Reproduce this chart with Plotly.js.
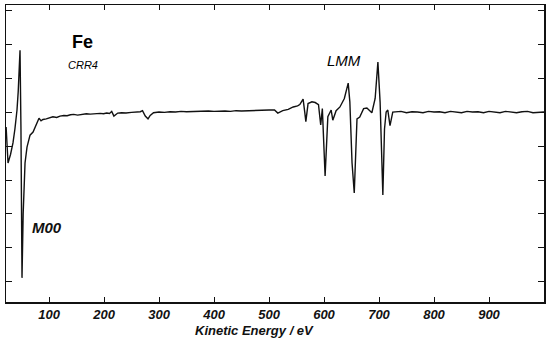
<!DOCTYPE html>
<html>
<head>
<meta charset="utf-8">
<script src="https://cdn.plot.ly/plotly-3.0.1.min.js"></script>
<style>html,body{margin:0;padding:0;background:#fff;}#chart{width:550px;height:345px;}</style>
</head>
<body>
<div id="chart"></div>
<script>
// Kinetic energy (eV)
var energy = [22, 23.5, 25.5, 30, 34.5, 38, 41.8, 44, 47.3, 49, 50.9, 53, 56.4, 60, 65.5, 71, 76.4, 81.8, 85.5, 89, 95, 101, 107, 114, 120, 127, 133, 139, 145, 152, 162, 168, 175, 184, 193, 199, 205, 210, 214, 218, 225, 232, 240, 250, 260, 266, 270, 275, 280, 284, 290, 300, 310, 320, 330, 340, 350, 360, 370, 380, 390, 400, 410, 420, 430, 440, 450, 460, 470, 480, 490, 500, 510, 516, 525, 535, 544, 552, 556, 562, 565, 567, 571, 578, 584, 590, 594, 597, 602, 607, 613, 616, 622, 629, 637, 644, 647, 651, 655, 660, 665, 672, 678, 687, 693, 698, 702, 705, 707, 710, 713, 716, 720, 725, 730, 740, 750, 760, 770, 780, 790, 800, 810, 820, 830, 840, 850, 860, 870, 880, 890, 900, 910, 920, 930, 940, 950, 960, 970, 980, 990, 1000];
// dN/dE intensity (arbitrary units)
var intensity = [4.56, 4.0, 3.5, 3.75, 4.09, 4.5, 5.06, 5.6, 6.82, 4.5, 0.12, 2.0, 3.5, 3.97, 4.32, 4.41, 4.62, 4.82, 4.74, 4.78, 4.8, 4.84, 4.86, 4.84, 4.88, 4.9, 4.89, 4.92, 4.93, 4.91, 4.93, 4.95, 4.94, 4.96, 4.96, 4.95, 4.97, 4.96, 5.02, 4.88, 4.97, 4.98, 4.97, 4.99, 5.0, 5.01, 5.04, 4.88, 4.8, 4.9, 4.98, 5.0, 4.99, 5.01, 5.0, 5.02, 5.01, 5.02, 5.01, 5.02, 5.03, 5.02, 5.03, 5.03, 5.02, 5.04, 5.03, 5.04, 5.05, 5.04, 5.05, 5.06, 5.06, 4.97, 5.04, 5.08, 5.15, 5.18, 5.22, 5.38, 5.0, 4.72, 5.25, 5.3, 5.28, 5.22, 4.62, 5.1, 3.12, 4.86, 5.06, 4.76, 5.04, 5.15, 5.4, 5.85, 5.3, 3.5, 2.62, 4.8, 4.85, 5.1, 5.12, 4.98, 5.4, 6.47, 5.3, 3.5, 2.56, 4.5, 5.0, 5.06, 4.6, 5.0, 5.0, 5.02, 4.98, 5.01, 5.0, 4.98, 5.02, 5.0, 5.01, 4.98, 5.02, 5.0, 4.98, 5.02, 5.0, 5.01, 4.98, 5.02, 5.0, 4.98, 5.02, 5.0, 4.98, 5.01, 5.02, 4.98, 5.0, 5.0];
var xTicks = [100, 200, 300, 400, 500, 600, 700, 800, 900];
var xTickText = ["100", "200", "300", "400", "500", "600", "700", "800", "900"];
var xTitle = "Kinetic Energy / eV";

var tickFont = {family: "Liberation Sans, Arial, sans-serif", size: 13, color: "#111", weight: 700, style: "italic"};

var trace = {
  x: energy, y: intensity, type: "scatter", mode: "lines",
  line: {color: "#111", width: 1.4, shape: "linear"},
  hoverinfo: "skip"
};

var layout = {
  width: 550, height: 345,
  margin: {l: 6, r: 6, t: 5, b: 43},
  paper_bgcolor: "#fff", plot_bgcolor: "#fff",
  showlegend: false,
  xaxis: {
    range: [21.8, 1000],
    tickvals: xTicks, ticktext: xTickText,
    ticks: "inside", ticklen: 5, tickwidth: 1, tickcolor: "#111",
    mirror: "ticks", showline: true, linecolor: "#111", linewidth: 1.5,
    showgrid: false, zeroline: false,
    tickfont: tickFont
  },
  yaxis: {
    range: [-0.59, 8.15],
    tick0: 0, dtick: 1,
    ticks: "inside", ticklen: 6, tickwidth: 1, tickcolor: "#111",
    mirror: "ticks", showline: true, linecolor: "#111", linewidth: 1.5,
    showgrid: false, zeroline: false, showticklabels: false
  },
  annotations: [
    {x: 254, y: 330, xref: "paper", yref: "paper", text: xTitle, showarrow: false,
     xanchor: "center", yanchor: "middle", font: tickFont},
    {x: 160, y: 7.06, xref: "x", yref: "y", text: "Fe", showarrow: false,
     font: {family: "Liberation Sans, Arial, sans-serif", size: 18, color: "#000", weight: 700}},
    {x: 162, y: 6.38, xref: "x", yref: "y", text: "CRR4", showarrow: false,
     font: {family: "Liberation Sans, Arial, sans-serif", size: 11, color: "#000", style: "italic"}},
    {x: 636, y: 6.53, xref: "x", yref: "y", text: "LMM", showarrow: false,
     font: {family: "Liberation Sans, Arial, sans-serif", size: 15, color: "#000", style: "italic", weight: 500}},
    {x: 96, y: 1.59, xref: "x", yref: "y", text: "M00", showarrow: false,
     font: {family: "Liberation Sans, Arial, sans-serif", size: 15, color: "#111", style: "italic", weight: 700}}
  ]
};
// place axis title annotation in pixel terms converted to paper coords
layout.annotations[0].x = (254 - 6) / 538;
layout.annotations[0].y = -(330 - 302) / 297;

Plotly.newPlot("chart", [trace], layout, {staticPlot: true, displayModeBar: false});
</script>
</body>
</html>
